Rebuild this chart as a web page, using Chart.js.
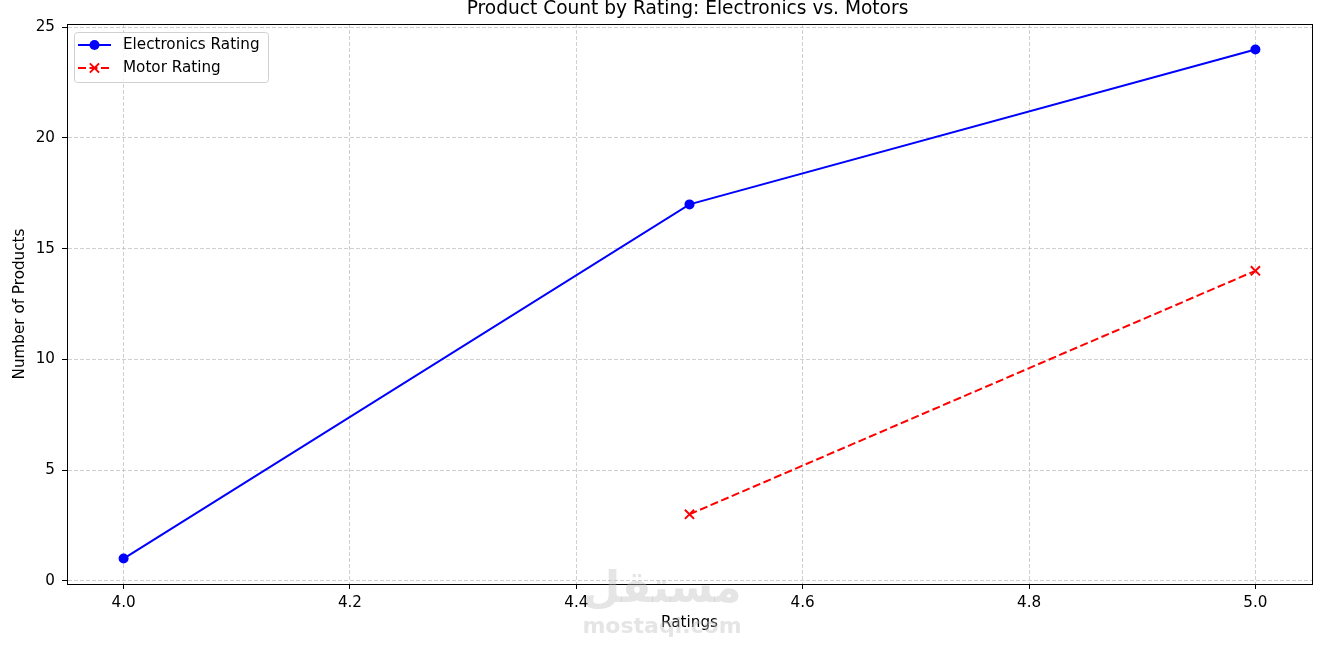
<!DOCTYPE html>
<html>
<head>
<meta charset="utf-8">
<script src="https://cdn.jsdelivr.net/npm/chart.js@4.4.0/dist/chart.umd.min.js"></script>
<style>
  body { margin: 0; background: #fff; }
  #wrap { width: 1327px; height: 654px; position: relative; }
</style>
</head>
<body>
<div id="wrap"><canvas id="ratingChart"></canvas></div>
<script>
// Chart data
const chartTitle = 'Product Count by Rating: Electronics vs. Motors';
const electronicsRatings = [4.0, 4.5, 5.0];
const electronicsCounts = [1, 17, 24];
const motorRatings = [4.5, 5.0];
const motorCounts = [3, 14];
const xTicks = [4.0, 4.2, 4.4, 4.6, 4.8, 5.0];
const yTicks = [0, 5, 10, 15, 20, 25];

const FONT = 'DejaVu Sans';
const FS = 15.2; // base text size

function toPoints(xs, ys) {
  return xs.map((x, i) => ({ x: x, y: ys[i] }));
}

// Frame, title, legend and watermark drawn on the canvas
const extrasPlugin = {
  id: 'extras',
  afterDraw(chart) {
    const ctx = chart.ctx;
    const area = chart.chartArea;
    ctx.save();

    // box around the axes
    ctx.strokeStyle = '#000';
    ctx.lineWidth = 1;
    ctx.strokeRect(Math.round(area.left) + 0.5, Math.round(area.top) + 0.5,
      Math.round(area.right - area.left), Math.round(area.bottom - area.top));

    // title
    ctx.fillStyle = '#000';
    ctx.font = '18.6px "' + FONT + '"';
    ctx.textAlign = 'center';
    ctx.textBaseline = 'alphabetic';
    ctx.fillText(chartTitle, (area.left + area.right) / 2 - 2, 14);

    // legend in upper left
    const bx = area.left + 7, by = area.top + 8, bw = 194, bh = 50;
    ctx.beginPath();
    ctx.roundRect(bx + 0.5, by + 0.5, bw, bh, 3);
    ctx.fillStyle = 'rgba(255,255,255,0.8)';
    ctx.fill();
    ctx.strokeStyle = '#d0d0d0';
    ctx.stroke();
    chart.data.datasets.forEach((ds, i) => {
      const rowY = by + 13 + i * 23;
      const x0 = bx + 4, x1 = bx + 37, mx = (x0 + x1) / 2;
      ctx.strokeStyle = ds.borderColor;
      ctx.lineWidth = ds.borderWidth;
      ctx.setLineDash(ds.borderDash || []);
      ctx.beginPath();
      ctx.moveTo(x0, rowY);
      ctx.lineTo(x1, rowY);
      ctx.stroke();
      ctx.setLineDash([]);
      if (ds.pointStyle === 'crossRot') {
        const r = ds.pointRadius * 0.707;
        ctx.lineWidth = ds.pointBorderWidth;
        ctx.beginPath();
        ctx.moveTo(mx - r, rowY - r); ctx.lineTo(mx + r, rowY + r);
        ctx.moveTo(mx + r, rowY - r); ctx.lineTo(mx - r, rowY + r);
        ctx.stroke();
      } else {
        ctx.fillStyle = ds.backgroundColor;
        ctx.beginPath();
        ctx.arc(mx, rowY, ds.pointRadius, 0, Math.PI * 2);
        ctx.fill();
      }
      ctx.fillStyle = '#000';
      ctx.font = FS + 'px "' + FONT + '"';
      ctx.textAlign = 'left';
      ctx.textBaseline = 'middle';
      ctx.fillText(ds.label, bx + 49, rowY);
    });

    // site watermark
    ctx.fillStyle = 'rgba(190,190,190,0.4)';
    ctx.textAlign = 'center';
    ctx.textBaseline = 'alphabetic';
    ctx.font = 'bold 60px "' + FONT + '"';
    let w = ctx.measureText('مستقل').width;
    ctx.font = 'bold ' + (60 * 159 / w).toFixed(1) + 'px "' + FONT + '"';
    ctx.fillText('مستقل', 662, 602);
    ctx.font = 'bold 25px "' + FONT + '"';
    w = ctx.measureText('mostaql.com').width;
    ctx.font = 'bold ' + (25 * 159 / w).toFixed(1) + 'px "' + FONT + '"';
    ctx.fillText('mostaql.com', 662, 633);

    ctx.restore();
  }
};

const gridStyle = {
  color: 'rgba(176,176,176,0.6)',
  lineWidth: 1,
  tickColor: '#000',
  tickBorderDash: [],
  tickLength: 5,
  tickWidth: 1
};
// in Chart.js v4 the grid line dash lives on border.dash
const borderStyle = { display: true, color: '#000', width: 1, dash: [4, 2] };

const ctx = document.getElementById('ratingChart').getContext('2d');
const ratingChart = new Chart(ctx, {
  type: 'line',
  data: {
    datasets: [{
      label: 'Electronics Rating',
      data: toPoints(electronicsRatings, electronicsCounts),
      borderColor: '#0000ff',
      backgroundColor: '#0000ff',
      borderWidth: 2,
      pointStyle: 'circle',
      pointRadius: 5,
      pointBorderWidth: 0,
      pointBackgroundColor: '#0000ff',
      tension: 0
    }, {
      label: 'Motor Rating',
      data: toPoints(motorRatings, motorCounts),
      borderColor: '#ff0000',
      backgroundColor: '#ff0000',
      borderWidth: 2,
      borderDash: [8, 3.5],
      pointStyle: 'crossRot',
      pointRadius: 6.5,
      pointBorderWidth: 2,
      pointBorderColor: '#ff0000',
      tension: 0
    }]
  },
  options: {
    responsive: true,
    maintainAspectRatio: false,
    animation: false,
    layout: { padding: { left: 0, top: 24, right: 15, bottom: 0 } },
    plugins: {
      legend: { display: false },
      title: { display: false },
      tooltip: { enabled: false }
    },
    scales: {
      x: {
        type: 'linear',
        min: 3.95,
        max: 5.05,
        afterBuildTicks: (scale) => { scale.ticks = xTicks.map(v => ({ value: v })); },
        afterFit: (scale) => { scale.height = 70; },
        grid: gridStyle,
        border: borderStyle,
        ticks: {
          color: '#000',
          font: { family: FONT, size: FS },
          padding: 5,
          maxRotation: 0,
          callback: (v) => Number(v).toFixed(1)
        },
        title: {
          display: true,
          text: 'Ratings',
          color: '#000',
          font: { family: FONT, size: FS },
          padding: { top: 0, bottom: 22 }
        }
      },
      y: {
        type: 'linear',
        min: -0.15,
        max: 25.15,
        afterBuildTicks: (scale) => { scale.ticks = yTicks.map(v => ({ value: v })); },
        afterFit: (scale) => { scale.width = 67; },
        grid: gridStyle,
        border: borderStyle,
        ticks: {
          color: '#000',
          font: { family: FONT, size: FS },
          padding: 7,
          callback: (v) => String(v)
        },
        title: {
          display: true,
          text: 'Number of Products',
          color: '#000',
          font: { family: FONT, size: FS },
          padding: { top: 11, bottom: 0 }
        }
      }
    }
  },
  plugins: [extrasPlugin]
});
</script>
</body>
</html>
